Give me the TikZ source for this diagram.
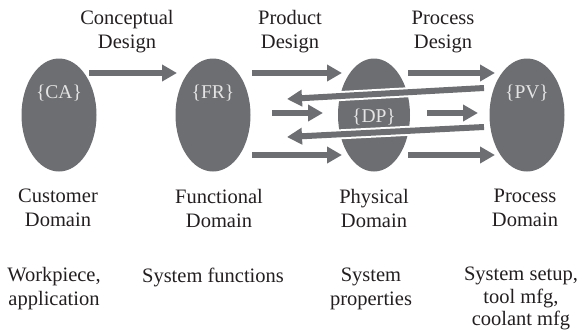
\documentclass[tikz,border=0pt]{standalone}
\usepackage{fontspec}
\setmainfont{Liberation Serif}
\usetikzlibrary{positioning,arrows.meta,shapes.geometric}
\definecolor{domgray}{HTML}{6D6E71}
\definecolor{domtext}{HTML}{E4E4E4}
\definecolor{ink}{HTML}{231F20}
\def\dsize{\fontsize{20.5}{24}\selectfont}

\begin{document}
\begin{tikzpicture}[x=1pt,y=-1pt,
  every node/.style={align=center,font=\dsize,text=ink,inner sep=0pt},
  domshape/.style={ellipse,fill=domgray,minimum width=75pt,minimum height=113pt},
  setname/.style={text=domtext,font=\fontsize{19.5}{22}\selectfont},
  flow/.style={draw=domgray,line width=6pt,-{Triangle[length=15pt,width=16pt]}},
  back/.style={flow,preaction={draw=white,line width=10pt,arrows=-}}]

\useasboundingbox (0,0) rectangle (582,330);

% the four domains
\node[domshape] (ca) at (59,115) {};
\node[domshape] (fr) at (213,115) {};
\node[domshape,minimum width=72pt] (dp) at (374,115) {};
\node[domshape] (pv) at (527,115) {};

\node[setname] (cal) at ([yshift=22pt]ca.center) {\{CA\}};
\node[setname] (frl) at ([yshift=22pt]fr.center) {\{FR\}};
\node[setname] (pvl) at ([yshift=22pt]pv.center) {\{PV\}};

% design steps
\node (cdes) at (127,32) {Conceptual\\Design};
\node (pdes) at (290,32) {Product\\Design};
\node (pcdes) at (443,32) {Process\\Design};

% arrow ends
\coordinate (cd1) at (89,73);   \coordinate (cd2) at (177,73);
\coordinate (pd1) at (252,73);  \coordinate (pd2) at (342,73);
\coordinate (pd3) at (272,113); \coordinate (pd4) at (323,113);
\coordinate (pd5) at (252,155); \coordinate (pd6) at (342,155);
\coordinate (pc1) at (408,73);  \coordinate (pc2) at (495,73);
\coordinate (pc3) at (427,113); \coordinate (pc4) at (478,113);
\coordinate (pc5) at (408,155); \coordinate (pc6) at (495,155);
\coordinate (bk1) at (484,88);  \coordinate (bk2) at (287,99);
\coordinate (bk3) at (484,127); \coordinate (bk4) at (287,137);

\draw[flow] (cd1) -- (cd2);
\draw[flow] (pd1) -- (pd2);
\draw[flow] (pd3) -- (pd4);
\draw[flow] (pd5) -- (pd6);
\draw[flow] (pc1) -- (pc2);
\draw[flow] (pc3) -- (pc4);
\draw[flow] (pc5) -- (pc6);
\draw[back] (bk1) -- (bk2);
\draw[back] (bk3) -- (bk4);

\node[setname] (dpl) at ([yshift=-2pt]dp.center) {\{DP\}};

% domain names
\node (can) [below=17pt of ca, xshift=-1pt] {Customer\\Domain};
\node (frn) [below=17pt of fr, xshift=6pt] {Functional\\Domain};
\node (dpn) [below=17pt of dp] {Physical\\Domain};
\node (pvn) [below=17pt of pv, xshift=-2pt] {Process\\Domain};

% what each domain holds
\node (caw) [below=40pt of can, xshift=-4pt] {Workpiece,\\application};
\node (frw) [below=40pt of frn, xshift=-6pt] {System functions\\\phantom{x}};
\node (dpw) [below=40pt of dpn, xshift=-3pt] {System\\properties};
\node (pvw) [below=40pt of pvn, xshift=-4pt, font=\fontsize{20.5}{22.5}\selectfont] {System setup,\\tool mfg,\\coolant mfg};
\end{tikzpicture}
\end{document}
